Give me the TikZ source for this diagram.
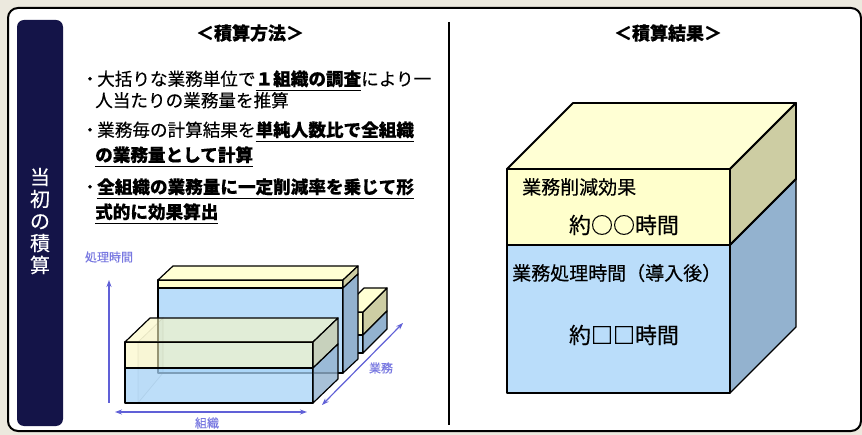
\documentclass[tikz,border=0pt]{standalone}
\usepackage{fontspec}
\setmainfont{Noto Sans CJK JP}[FakeBold=0.35]
\usetikzlibrary{arrows.meta}
\definecolor{bgbeige}{RGB}{236,233,222}
\definecolor{navy}{RGB}{20,20,72}
\definecolor{yfront}{RGB}{255,255,204}
\definecolor{ytop}{RGB}{255,255,212}
\definecolor{yside}{RGB}{205,205,163}
\definecolor{bfront}{RGB}{186,221,250}
\definecolor{bside}{RGB}{147,178,207}
\definecolor{tyel}{RGB}{251,248,192}
\definecolor{tblue}{RGB}{168,212,248}
\definecolor{axisc}{RGB}{96,96,215}
\definecolor{axislab}{RGB}{120,120,225}
\newcommand{\myul}[1]{\setbox0=\hbox{\bfseries #1}\rlap{\color{black}\rule[-6pt]{\wd0}{1.4pt}}\box0}
\tikzset{
  edge/.style={draw=black, line width=1.2pt, line join=round},
  bigedge/.style={draw=black, line width=1.8pt, line join=round},
  tface/.style={edge, fill opacity=0.6},
  axisline/.style={draw=axisc, line width=1.2pt},
  tip/.tip={Stealth[length=7pt,width=5pt]},
  axislabel/.style={text=axislab, font=\fontsize{12}{14}\selectfont, inner sep=0pt},
  bullet/.style={anchor=base west, inner sep=0pt, font=\fontsize{17.6}{20}\selectfont},
  title/.style={inner sep=0pt, font=\bfseries\fontsize{18}{20}\selectfont},
  boxtext/.style={inner sep=0pt, font=\fontsize{19}{21}\selectfont},
  bigtext/.style={inner sep=0pt, font=\fontsize{22}{24}\selectfont}
}
\begin{document}
\begin{tikzpicture}[x=1pt,y=-1pt]
\useasboundingbox (0,0) rectangle (862,435);
\fill[bgbeige] (0,0) rectangle (862,435);
\draw[line width=2pt, fill=white, rounded corners=10pt] (8,8) rectangle (861,431);
% navy label bar
\fill[navy, rounded corners=7pt] (17,20) rectangle (63,426);
\node[text=white, font=\fontsize{20}{22}\selectfont, align=center, inner sep=0pt] (lbl) at (40,221) {当\\初\\の\\積\\算};
% divider
\coordinate (divT) at (449,22);
\coordinate (divB) at (449,425);
\draw[line width=1.2pt] (divT) -- (divB);
% titles
\node[title] (t1) at (250,33) {＜積算方法＞};
\node[title] (t2) at (668,33) {＜積算結果＞};
% bullets
\node[bullet] (d1) at (81,85.5) {・};
\node[bullet] (l1) at (97,85.5) {大括りな業務単位で\myul{１組織の調査}により一};
\node[bullet] (l2) at (95,107) {人当たりの業務量を推算};
\node[bullet] (d2) at (81,136.5) {・};
\node[bullet] (l3) at (97,136.5) {業務毎の計算結果を\myul{単純人数比で全組織}};
\node[bullet] (l4) at (95,161.5) {\myul{の業務量として計算}};
\node[bullet] (d3) at (81,193.5) {・};
\node[bullet] (l5) at (97,193.5) {\myul{全組織の業務量に一定削減率を乗じて形}};
\node[bullet] (l6) at (95,218.5) {\myul{式的に効果算出}};
% ---- small chart ----
% back small box
\filldraw[edge, fill=yfront] (340,312) rectangle (363,335);
\filldraw[edge, fill=bfront] (340,335) rectangle (363,353);
\filldraw[edge, fill=yside] (363,312)--(387,288)--(387,311)--(363,335)--cycle;
\filldraw[edge, fill=bside] (363,335)--(387,311)--(387,329)--(363,353)--cycle;
\filldraw[edge, fill=ytop] (340,312)--(364,288)--(387,288)--(363,312)--cycle;
% tall box
\filldraw[edge, fill=bfront] (158,288) rectangle (343,373);
\filldraw[edge, fill=yfront] (158,280) rectangle (343,288);
\filldraw[edge, fill=ytop] (158,280)--(173,266)--(358,266)--(343,280)--cycle;
\filldraw[edge, fill=yside] (343,280)--(358,266)--(358,274)--(343,288)--cycle;
\filldraw[edge, fill=bside] (343,288)--(358,274)--(358,359)--(343,373)--cycle;
% front transparent box
\filldraw[black, draw opacity=0.2, fill opacity=0.04, line width=0.8pt] (138,342)--(163,318)--(163,373)--(138,403)--cycle;
\filldraw[tface, fill=tblue, fill opacity=0.75] (125,368) rectangle (313,403);
\filldraw[tface, fill=tyel] (125,342) rectangle (313,368);
\filldraw[tface, fill=tyel] (125,342)--(150,318)--(338,318)--(313,342)--cycle;
\filldraw[tface, fill=yside, fill opacity=0.7] (313,342)--(338,318)--(338,344)--(313,368)--cycle;
\filldraw[tface, fill=bside, fill opacity=0.8] (313,368)--(338,344)--(338,379)--(313,403)--cycle;
% axes
\coordinate (vA) at (109,403); \coordinate (vB) at (109,280);
\coordinate (hA) at (115,412); \coordinate (hB) at (307,412);
\coordinate (dA) at (322,405); \coordinate (dB) at (403,323);
\draw[axisline, -tip] (vA) -- (vB);
\draw[axisline, tip-tip] (hA) -- (hB);
\draw[axisline, tip-tip] (dA) -- (dB);
\node[axislabel] (lv) at (109,257) {処理時間};
\node[axislabel] (lh) at (207,423) {組織};
\node[axislabel] (ld) at (381,368) {業務};
% ---- big box ----
\filldraw[bigedge, fill=ytop] (507,169)--(573,103)--(796,103)--(730,169)--cycle;
\filldraw[bigedge, fill=yside] (730,169)--(796,103)--(796,179)--(730,245)--cycle;
\filldraw[edge, fill=bside] (730,245)--(796,179)--(796,327)--(730,393)--cycle;
\filldraw[bigedge, fill=yfront] (507,169) rectangle (730,245);
\filldraw[edge, fill=bfront] (507,245) rectangle (730,393);
\draw[bigedge] (507,245) -- (730,245) -- (796,179);
\node[boxtext, anchor=west] (r1) at (522,187) {業務削減効果};
\node[bigtext] (r2) at (624,225) {約○○時間};
\node[boxtext, anchor=west] (r3) at (512,273) {業務処理時間（導入後）};
\node[bigtext] (r4) at (624,335) {約□□時間};
\end{tikzpicture}
\end{document}
